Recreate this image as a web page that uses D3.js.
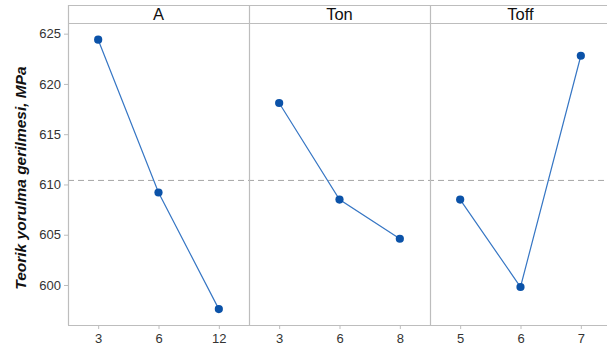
<!DOCTYPE html>
<html lang="tr">
<head>
    <meta charset="UTF-8">
    <title>Main effects</title>
    <script src="https://cdnjs.cloudflare.com/ajax/libs/d3/7.8.5/d3.min.js"></script>
    <style>
        body { margin: 0; background: #fff; }
        svg { display: block; font-family: "Liberation Sans", Arial, sans-serif; }
    </style>
</head>
<body>
<svg width="607" height="345"></svg>
<script>
    // factors and their levels
    const factors = ["A", "Ton", "Toff"];
    const levelsA = ["3", "6", "12"];
    const levelsTon = ["3", "6", "8"];
    const levelsToff = ["5", "6", "7"];
    // mean response per level
    const meansA = [624.4, 609.2, 597.6];
    const meansTon = [618.1, 608.5, 604.6];
    const meansToff = [608.5, 599.8, 622.8];
    const grandMean = 610.4;
    const yTicks = [600, 605, 610, 615, 620, 625];

    const panels = [
        { name: factors[0], levels: levelsA, values: meansA },
        { name: factors[1], levels: levelsTon, values: meansTon },
        { name: factors[2], levels: levelsToff, values: meansToff }
    ];

    const svg = d3.select("svg");
    const marginLeft = 68, frameTop = 5, stripH = 18, plotBottom = 325, panelW = 181;
    const plotTop = frameTop + stripH;
    const grid = "#bdbdbd";

    const y = d3.scaleLinear().domain([596.02, 626.06]).range([plotBottom, plotTop]);

    // y axis
    const yAxis = svg.append("g")
        .attr("transform", `translate(${marginLeft},0)`)
        .call(d3.axisLeft(y).tickValues(yTicks).tickSize(4).tickPadding(3));
    yAxis.select(".domain").remove();
    yAxis.selectAll("line").attr("stroke", grid);
    yAxis.selectAll("text").attr("fill", "#333").style("font-size", "13px");

    // horizontal frame lines: top, under strips, bottom
    [frameTop, plotTop, plotBottom].forEach(yy => {
        svg.append("line")
            .attr("x1", marginLeft).attr("x2", 607)
            .attr("y1", yy + 0.5).attr("y2", yy + 0.5)
            .attr("stroke", grid).attr("stroke-width", 1.2);
    });

    // reference line (grand mean)
    svg.append("line")
        .attr("x1", marginLeft).attr("x2", 607)
        .attr("y1", y(grandMean)).attr("y2", y(grandMean))
        .attr("stroke", "#a6a6a6").attr("stroke-width", 1)
        .attr("stroke-dasharray", "6,4");

    panels.forEach((p, i) => {
        const x0 = marginLeft + i * panelW;
        const x = d3.scalePoint().domain(p.levels).range([x0, x0 + panelW]).padding(0.5);

        // panel separator
        svg.append("line")
            .attr("x1", x0 + 0.5).attr("x2", x0 + 0.5)
            .attr("y1", frameTop).attr("y2", plotBottom)
            .attr("stroke", grid).attr("stroke-width", 1.2);

        svg.append("text")
            .attr("x", x0 + panelW / 2).attr("y", frameTop + 15)
            .attr("text-anchor", "middle")
            .style("font-size", "16.5px").attr("fill", "#111")
            .text(p.name);

        const xAxis = svg.append("g")
            .attr("transform", `translate(0,${plotBottom})`)
            .call(d3.axisBottom(x).tickSize(4).tickPadding(5));
        xAxis.select(".domain").remove();
        xAxis.selectAll("line").attr("stroke", grid);
        xAxis.selectAll("text").attr("fill", "#333").style("font-size", "13px");

        const pts = p.levels.map((l, j) => [x(l), y(p.values[j])]);
        svg.append("path")
            .attr("d", d3.line()(pts))
            .attr("fill", "none")
            .attr("stroke", "#3676c4").attr("stroke-width", 1.2);

        svg.selectAll(null)
            .data(pts)
            .enter()
            .append("circle")
            .attr("cx", d => d[0]).attr("cy", d => d[1])
            .attr("r", 4.1)
            .attr("fill", "#0b52a8");
    });

    // y title
    svg.append("text")
        .attr("transform", `translate(26,178) rotate(-90)`)
        .attr("text-anchor", "middle")
        .style("font-size", "15.5px").style("font-weight", "bold").style("font-style", "italic")
        .attr("fill", "#111")
        .text("Teorik yorulma gerilmesi, MPa");
</script>
</body>
</html>
